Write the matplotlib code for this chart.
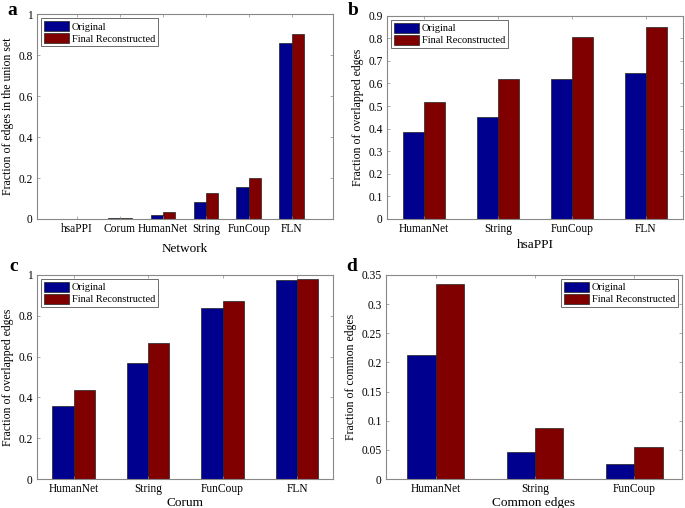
import numpy as np
import matplotlib.pyplot as plt

plt.rcParams['font.family'] = ['Liberation Serif', 'DejaVu Serif']

# données
cat_a = ['hsaPPI', 'Corum', 'HumanNet', 'String', 'FunCoup', 'FLN']
orig_a = [0.001, 0.003, 0.019, 0.083, 0.156, 0.857]
reco_a = [0.002, 0.004, 0.036, 0.127, 0.200, 0.901]

cat_b = ['HumanNet', 'String', 'FunCoup', 'FLN']
orig_b = [0.386, 0.450, 0.621, 0.646]
reco_b = [0.516, 0.622, 0.808, 0.848]

cat_c = ['HumanNet', 'String', 'FunCoup', 'FLN']
orig_c = [0.356, 0.568, 0.838, 0.974]
reco_c = [0.436, 0.667, 0.873, 0.982]

cat_d = ['HumanNet', 'String', 'FunCoup']
orig_d = [0.213, 0.047, 0.025]
reco_d = [0.335, 0.087, 0.055]

BLUE = '#00008f'
RED = '#800000'

fig = plt.figure(figsize=(6.85, 5.08), dpi=100)


def panel(rect, cats, orig, reco, ylim, yticks, ylabel, xlabel, letter,
          letter_pos, xlim, legloc, xlabpad):
    ax = fig.add_axes(rect)
    x = np.arange(1, len(cats) + 1)
    w = 0.285
    ax.bar(x - w/2, orig, w, color=BLUE, edgecolor='#222222', linewidth=0.5,
           label='Original')
    ax.bar(x + w/2, reco, w, color=RED, edgecolor='#222222', linewidth=0.5,
           label='Final Reconstructed')
    ax.set_xlim(*xlim)
    ax.set_ylim(*ylim)
    ax.set_yticks(yticks)
    ax.set_yticklabels(['%g' % t for t in yticks])
    ax.set_xticks(x)
    ax.set_xticklabels(cats)
    ax.tick_params(direction='in', length=2, width=0.5, color='#888888',
                   top=True, right=True, labelsize=8.3, pad=3)
    for s in ax.spines.values():
        s.set_color('#888888')
        s.set_linewidth(0.8)
    ax.set_ylabel(ylabel, fontsize=8.5, labelpad=3)
    ax.set_xlabel(xlabel, fontsize=9.5, labelpad=xlabpad)
    leg = ax.legend(loc=legloc, fontsize=7.5, fancybox=False, framealpha=1,
                    handlelength=2.4, handleheight=1.1, handletextpad=0.3,
                    borderpad=0.25, labelspacing=0.15, borderaxespad=0.4)
    leg.get_frame().set_edgecolor('#555555')
    leg.get_frame().set_linewidth(0.6)
    fig.text(letter_pos[0], letter_pos[1], letter,
             fontsize=14, fontweight='bold', va='top', ha='left')
    return ax


panel([0.054, 0.569, 0.432, 0.403], cat_a, orig_a, reco_a, (0, 1),
      [0, 0.2, 0.4, 0.6, 0.8, 1], 'Fraction of edges in the union set',
      'Network', 'a', (0.011, 0.996), (0.07, 6.96), 'upper left', 6)
panel([0.565, 0.569, 0.432, 0.400], cat_b, orig_b, reco_b, (0, 0.9),
      np.round(np.arange(0, 0.91, 0.1), 1), 'Fraction of overlapped edges',
      'hsaPPI', 'b', (0.508, 0.996), (0.5, 4.5), 'upper left', 3)
panel([0.054, 0.057, 0.432, 0.402], cat_c, orig_c, reco_c, (0, 1),
      [0, 0.2, 0.4, 0.6, 0.8, 1], 'Fraction of overlapped edges',
      'Corum', 'c', (0.013, 0.492), (0.51, 4.48), 'upper left', 1)
panel([0.5635, 0.057, 0.432, 0.402], cat_d, orig_d, reco_d, (0, 0.35),
      np.round(np.arange(0, 0.351, 0.05), 2), 'Fraction of common edges',
      'Common edges', 'd', (0.506, 0.492), (0.5, 3.48), 'upper right', 1)

fig.savefig('out.png', dpi=100)
